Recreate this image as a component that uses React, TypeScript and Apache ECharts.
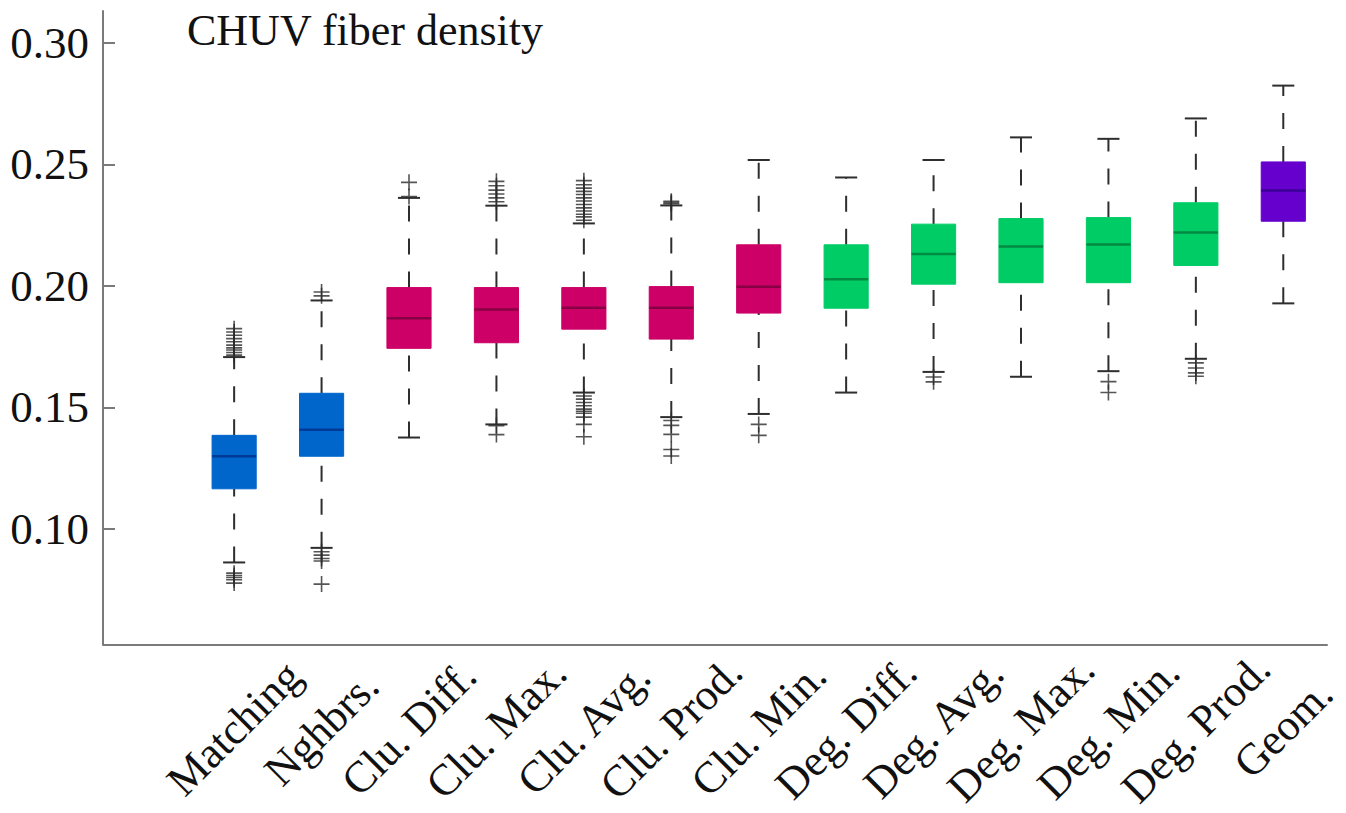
import React, { useEffect, useRef } from "react";
import * as echarts from "echarts";

const categories = [
  "Matching", "Nghbrs.", "Clu. Diff.", "Clu. Max.", "Clu. Avg.", "Clu. Prod.", "Clu. Min.",
  "Deg. Diff.", "Deg. Avg.", "Deg. Max.", "Deg. Min.", "Deg. Prod.", "Geom.",
];
const groups = ["nb", "nb", "clu", "clu", "clu", "clu", "clu", "deg", "deg", "deg", "deg", "deg", "geo"];

const lowerWhisker = [0.0862, 0.0922, 0.1376, 0.1430, 0.1561, 0.1460, 0.1473, 0.1561, 0.1646, 0.1626, 0.1649, 0.1700, 0.1928];
const q1 = [0.1165, 0.1299, 0.1743, 0.1766, 0.1822, 0.1781, 0.1888, 0.1908, 0.2007, 0.2013, 0.2013, 0.2084, 0.2266];
const medians = [0.1299, 0.1408, 0.1867, 0.1903, 0.1910, 0.1910, 0.1996, 0.2027, 0.2131, 0.2162, 0.2170, 0.2220, 0.2392];
const q3 = [0.1385, 0.1558, 0.1993, 0.1993, 0.1993, 0.1997, 0.2169, 0.2169, 0.2254, 0.2277, 0.2281, 0.2342, 0.2510];
const upperWhisker = [0.1707, 0.1940, 0.2362, 0.2330, 0.2257, 0.2331, 0.2518, 0.2446, 0.2518, 0.2611, 0.2605, 0.2689, 0.2824];

const outliers = [
  [0.1715, 0.1726, 0.1736, 0.1745, 0.1756, 0.1770, 0.1783, 0.1797, 0.1810, 0.1824, 0.0818, 0.0808, 0.0800, 0.0791, 0.0777],
  [0.1959, 0.1975, 0.0906, 0.0892, 0.0878, 0.0868, 0.0773],
  [0.2368, 0.2426],
  [0.2346, 0.2362, 0.2378, 0.2394, 0.2412, 0.2430, 0.1425, 0.1388],
  [0.2270, 0.2284, 0.2295, 0.2308, 0.2321, 0.2335, 0.2349, 0.2362, 0.2376, 0.2389, 0.2402, 0.2416, 0.2433,
    0.1547, 0.1534, 0.1520, 0.1507, 0.1493, 0.1484, 0.1476, 0.1460, 0.1430, 0.1379],
  [0.2338, 0.2343, 0.2348, 0.1446, 0.1426, 0.1389, 0.1327, 0.1300],
  [0.1430, 0.1385],
  [],
  [0.1625, 0.1605],
  [],
  [0.1606, 0.1561],
  [0.1683, 0.1662, 0.1642, 0.1628],
  [],
];

const yTicks = [0.10, 0.15, 0.20, 0.25, 0.30];
const yMin = 0.0525;
const yMax = 0.3131;

const boxColors: Record<string, string> = { nb: "#0066cc", clu: "#cc0066", deg: "#00cc66", geo: "#6600cc" };
const medianColors: Record<string, string> = { nb: "#003a96", clu: "#880044", deg: "#008a42", geo: "#3a0096" };

const FONT = '"Liberation Serif", "Times New Roman", serif';

export default function App() {
  const ref = useRef<HTMLDivElement>(null);
  useEffect(() => {
    if (!ref.current) return;
    const chart = echarts.init(ref.current, undefined, { renderer: "svg" });
    const boxData = categories.map((_, i) => [i + 1, lowerWhisker[i], q1[i], medians[i], q3[i], upperWhisker[i]]);
    const outlierData: number[][] = [];
    outliers.forEach((arr, i) => arr.forEach((v) => outlierData.push([i + 1, v])));

    chart.setOption({
      animation: false,
      backgroundColor: "#ffffff",
      grid: { left: 103, right: 19, top: 11, bottom: 159, containLabel: false },
      graphic: [
        {
          type: "text",
          left: 187,
          top: 8,
          style: { text: "CHUV fiber density", font: `44px ${FONT}`, fill: "#111" },
        },
      ],
      xAxis: {
        type: "category",
        data: ["", ...categories],
        boundaryGap: true,
        axisLine: { show: true, lineStyle: { color: "#7a7a7a", width: 2 } },
        axisTick: { show: false },
        splitLine: { show: false },
        axisLabel: {
          interval: 0,
          rotate: 45,
          align: "center",
          verticalAlign: "middle",
          margin: 84,
          fontFamily: FONT,
          fontSize: 44,
          color: "#111",
        },
      },
      yAxis: {
        type: "value",
        min: yMin,
        max: yMax,
        axisLine: { show: true, lineStyle: { color: "#7a7a7a", width: 2 } },
        axisTick: {
          show: true,
          inside: true,
          length: 12,
          customValues: yTicks,
          lineStyle: { color: "#7a7a7a", width: 2 },
        },
        splitLine: { show: false },
        axisLabel: {
          customValues: yTicks,
          formatter: (v: number) => v.toFixed(2),
          margin: 14,
          fontFamily: FONT,
          fontSize: 45,
          color: "#111",
        },
      },
      series: [
        {
          type: "custom",
          data: boxData,
          encode: { x: 0, y: [1, 2, 3, 4, 5] },
          renderItem: (params: any, api: any) => {
            const idx = api.value(0);
            const i = idx - 1;
            const lo = api.coord([idx, api.value(1)]);
            const b1 = api.coord([idx, api.value(2)]);
            const md = api.coord([idx, api.value(3)]);
            const b3 = api.coord([idx, api.value(4)]);
            const hi = api.coord([idx, api.value(5)]);
            const band = api.size([1, 0])[0];
            const bw = band * 0.505;
            const cw = bw * 0.5;
            const x = lo[0];
            const g = groups[i];
            const whisk = { stroke: "#2e2e2e", lineWidth: 2, lineDash: [16, 17] };
            const cap = { stroke: "#2e2e2e", lineWidth: 2 };
            return {
              type: "group",
              children: [
                { type: "line", shape: { x1: x, y1: lo[1], x2: x, y2: b1[1] }, style: whisk },
                { type: "line", shape: { x1: x, y1: b3[1], x2: x, y2: hi[1] }, style: whisk },
                { type: "line", shape: { x1: x - cw / 2, y1: lo[1], x2: x + cw / 2, y2: lo[1] }, style: cap },
                { type: "line", shape: { x1: x - cw / 2, y1: hi[1], x2: x + cw / 2, y2: hi[1] }, style: cap },
                {
                  type: "rect",
                  shape: { x: x - bw / 2, y: b3[1], width: bw, height: b1[1] - b3[1] },
                  style: { fill: boxColors[g], stroke: boxColors[g], lineWidth: 1 },
                },
                {
                  type: "line",
                  shape: { x1: x - bw / 2, y1: md[1], x2: x + bw / 2, y2: md[1] },
                  style: { stroke: medianColors[g], lineWidth: 2.5 },
                },
              ],
            };
          },
        },
        {
          type: "scatter",
          data: outlierData,
          symbol: "path://M0,7.2H16V8.8H0Z M7.2,0H8.8V16H7.2Z",
          symbolSize: 16,
          itemStyle: { color: "#2a2a2a" },
          z: 3,
        },
      ],
    });
    return () => chart.dispose();
  }, []);
  return <div ref={ref} style={{ width: 1346, height: 813, position: "absolute", left: 0, top: 0 }} />;
}
